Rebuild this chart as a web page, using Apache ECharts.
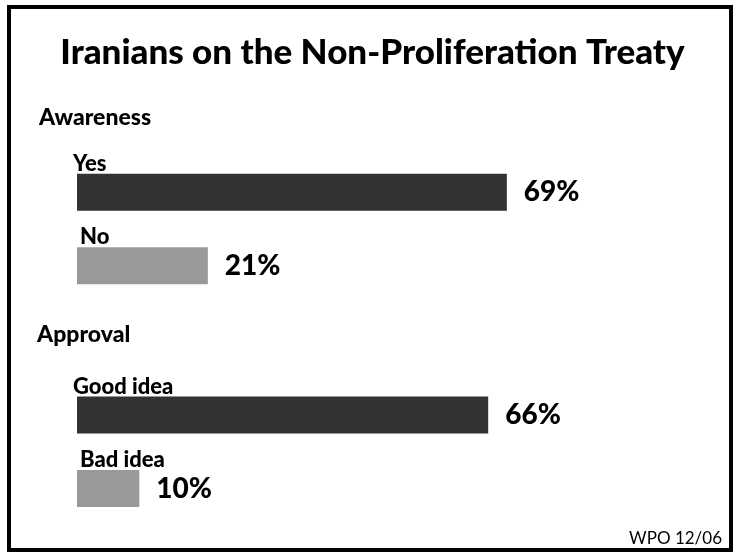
<!DOCTYPE html>
<html><head><meta charset="utf-8">
<script src="https://cdn.jsdelivr.net/npm/echarts@6/dist/echarts.min.js"></script>
<style>html,body{margin:0;padding:0;background:#fff}#c{width:734px;height:552px}</style>
</head><body><div id="c"></div>
<script>
// ---- data ----
const titleText = 'Iranians on the Non-Proliferation Treaty';
const sourceText = 'WPO 12/06';
const awarenessHeader = 'Awareness';
const awarenessCategories = ['Yes', 'No'];
const awarenessValues = [69, 21];
const approvalHeader = 'Approval';
const approvalCategories = ['Good idea', 'Bad idea'];
const approvalValues = [66, 10];

// ---- style ----
const barColors = ['#333333', '#999999'];
const FONT = 'Lato, "Open Sans", sans-serif';
const HEAVY = 900;

const chart = echarts.init(document.getElementById('c'), null, {renderer: 'canvas'});

function seriesFor(idx, cats, vals) {
  return [
    {
      type: 'bar', xAxisIndex: idx, yAxisIndex: idx, barWidth: 37, barGap: '-100%',
      silent: true, animation: false,
      data: vals.map((v, i) => ({value: v, itemStyle: {color: barColors[i]}})),
      label: {show: true, position: 'right', distance: 17, formatter: '{c}%',
        fontFamily: FONT, fontWeight: HEAVY, fontSize: 28, color: '#000'}
    },
    {
      type: 'bar', xAxisIndex: idx, yAxisIndex: idx, barWidth: 37, barGap: '-100%',
      silent: true, animation: false, z: 3,
      itemStyle: {color: 'rgba(0,0,0,0)'},
      data: vals.map((v, i) => ({value: v, label: {offset: [i === 0 ? -4 : 3, 1]}})),
      label: {show: true, position: [0, 0], align: 'left', verticalAlign: 'bottom',
        formatter: p => cats[p.dataIndex],
        fontFamily: FONT, fontWeight: HEAVY, fontSize: 22, color: '#000'}
    }
  ];
}

const gridCommon = {left: 77, width: 623, height: 147};
const xCommon = {type: 'value', min: 0, max: 100, show: false};

chart.setOption({
  animation: false,
  backgroundColor: '#fff',
  grid: [
    Object.assign({top: 155.5}, gridCommon),
    Object.assign({top: 378.3}, gridCommon)
  ],
  xAxis: [Object.assign({gridIndex: 0}, xCommon), Object.assign({gridIndex: 1}, xCommon)],
  yAxis: [
    {type: 'category', gridIndex: 0, data: awarenessCategories, inverse: true, show: false},
    {type: 'category', gridIndex: 1, data: approvalCategories, inverse: true, show: false}
  ],
  series: [].concat(seriesFor(0, awarenessCategories, awarenessValues),
                    seriesFor(1, approvalCategories, approvalValues)),
  graphic: [
    {type: 'rect', shape: {x: 9, y: 7, width: 722, height: 543},
     style: {fill: 'none', stroke: '#000', lineWidth: 4}, silent: true},
    {type: 'text', x: 372.5, y: 53, style: {text: titleText, align: 'center', verticalAlign: 'middle',
      fontFamily: FONT, fontWeight: HEAVY, fontSize: 35, fill: '#000'}},
    {type: 'text', x: 39, y: 118, style: {text: awarenessHeader, align: 'left', verticalAlign: 'middle',
      fontFamily: FONT, fontWeight: HEAVY, fontSize: 23, fill: '#000'}},
    {type: 'text', x: 37, y: 335, style: {text: approvalHeader, align: 'left', verticalAlign: 'middle',
      fontFamily: FONT, fontWeight: HEAVY, fontSize: 23, fill: '#000'}},
    {type: 'text', x: 722, y: 539, style: {text: sourceText, align: 'right', verticalAlign: 'middle',
      fontFamily: FONT, fontSize: 17, fill: '#000'}}
  ]
});
</script></body></html>
